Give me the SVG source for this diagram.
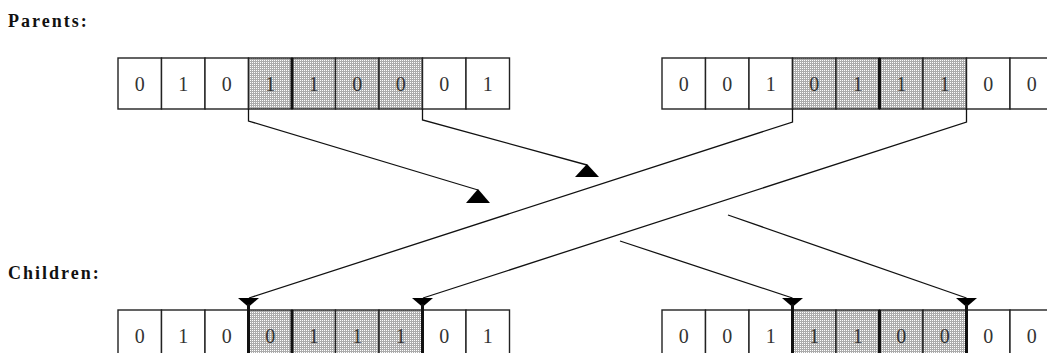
<svg xmlns="http://www.w3.org/2000/svg" width="1047" height="353" viewBox="0 0 1047 353">
<style>
.lbl{font-family:"Liberation Serif","Times New Roman",serif;font-weight:bold;font-size:18px;letter-spacing:2px;fill:#111}
.cell{fill:#fff;stroke:#222;stroke-width:1.4}
.sh{fill:url(#dots);stroke:#222;stroke-width:1.4}
.dg{font-family:"Liberation Serif","Times New Roman",serif;font-size:20px;fill:#333;text-anchor:middle}
.thick{stroke:#111;stroke-width:3}
.ln{fill:none;stroke:#111;stroke-width:1.3}
.ah{fill:#000}
</style>
<defs>
<pattern id="dots" width="2" height="2" patternUnits="userSpaceOnUse">
<rect width="2" height="2" fill="#acacac"/>
<rect width="1" height="1" fill="#fff"/>
</pattern>
</defs>
<rect width="1047" height="353" fill="#fff"/>
<text class="lbl" x="8" y="27">Parents:</text>
<text class="lbl" x="8" y="279">Children:</text>

<g id="parent1">
<rect class="cell" x="118" y="58" width="43.5" height="51"/>
<rect class="cell" x="161.5" y="58" width="43.5" height="51"/>
<rect class="cell" x="205" y="58" width="43.5" height="51"/>
<rect class="sh" x="248.5" y="58" width="43.5" height="51"/>
<rect class="sh" x="292" y="58" width="43.5" height="51"/>
<rect class="sh" x="335.5" y="58" width="43.5" height="51"/>
<rect class="sh" x="379" y="58" width="43.5" height="51"/>
<rect class="cell" x="422.5" y="58" width="43.5" height="51"/>
<rect class="cell" x="466" y="58" width="43.5" height="51"/>
<line class="thick" x1="292" y1="58" x2="292" y2="109"/>
<text class="dg" x="139.75" y="91">0</text>
<text class="dg" x="183.25" y="91">1</text>
<text class="dg" x="226.75" y="91">0</text>
<text class="dg" x="270.25" y="91">1</text>
<text class="dg" x="313.75" y="91">1</text>
<text class="dg" x="357.25" y="91">0</text>
<text class="dg" x="400.75" y="91">0</text>
<text class="dg" x="444.25" y="91">0</text>
<text class="dg" x="487.75" y="91">1</text>
</g>

<g id="parent2">
<rect class="cell" x="662" y="58" width="43.5" height="51"/>
<rect class="cell" x="705.5" y="58" width="43.5" height="51"/>
<rect class="cell" x="749" y="58" width="43.5" height="51"/>
<rect class="sh" x="792.5" y="58" width="43.5" height="51"/>
<rect class="sh" x="836" y="58" width="43.5" height="51"/>
<rect class="sh" x="879.5" y="58" width="43.5" height="51"/>
<rect class="sh" x="923" y="58" width="43.5" height="51"/>
<rect class="cell" x="966.5" y="58" width="43.5" height="51"/>
<rect class="cell" x="1010" y="58" width="43.5" height="51"/>
<line class="thick" x1="879.5" y1="58" x2="879.5" y2="109"/>
<text class="dg" x="683.75" y="91">0</text>
<text class="dg" x="727.25" y="91">0</text>
<text class="dg" x="770.75" y="91">1</text>
<text class="dg" x="814.25" y="91">0</text>
<text class="dg" x="857.75" y="91">1</text>
<text class="dg" x="901.25" y="91">1</text>
<text class="dg" x="944.75" y="91">1</text>
<text class="dg" x="988.25" y="91">0</text>
<text class="dg" x="1031.75" y="91">0</text>
</g>

<g id="child1">
<rect class="cell" x="118" y="310" width="43.5" height="51"/>
<rect class="cell" x="161.5" y="310" width="43.5" height="51"/>
<rect class="cell" x="205" y="310" width="43.5" height="51"/>
<rect class="sh" x="248.5" y="310" width="43.5" height="51"/>
<rect class="sh" x="292" y="310" width="43.5" height="51"/>
<rect class="sh" x="335.5" y="310" width="43.5" height="51"/>
<rect class="sh" x="379" y="310" width="43.5" height="51"/>
<rect class="cell" x="422.5" y="310" width="43.5" height="51"/>
<rect class="cell" x="466" y="310" width="43.5" height="51"/>
<line class="thick" x1="248.5" y1="310" x2="248.5" y2="353"/>
<line class="thick" x1="292" y1="310" x2="292" y2="353"/>
<line class="thick" x1="422.5" y1="310" x2="422.5" y2="353"/>
<text class="dg" x="139.75" y="343">0</text>
<text class="dg" x="183.25" y="343">1</text>
<text class="dg" x="226.75" y="343">0</text>
<text class="dg" x="270.25" y="343">0</text>
<text class="dg" x="313.75" y="343">1</text>
<text class="dg" x="357.25" y="343">1</text>
<text class="dg" x="400.75" y="343">1</text>
<text class="dg" x="444.25" y="343">0</text>
<text class="dg" x="487.75" y="343">1</text>
</g>

<g id="child2">
<rect class="cell" x="662" y="310" width="43.5" height="51"/>
<rect class="cell" x="705.5" y="310" width="43.5" height="51"/>
<rect class="cell" x="749" y="310" width="43.5" height="51"/>
<rect class="sh" x="792.5" y="310" width="43.5" height="51"/>
<rect class="sh" x="836" y="310" width="43.5" height="51"/>
<rect class="sh" x="879.5" y="310" width="43.5" height="51"/>
<rect class="sh" x="923" y="310" width="43.5" height="51"/>
<rect class="cell" x="966.5" y="310" width="43.5" height="51"/>
<rect class="cell" x="1010" y="310" width="43.5" height="51"/>
<line class="thick" x1="792.5" y1="310" x2="792.5" y2="353"/>
<line class="thick" x1="879.5" y1="310" x2="879.5" y2="353"/>
<line class="thick" x1="966.5" y1="310" x2="966.5" y2="353"/>
<text class="dg" x="683.75" y="343">0</text>
<text class="dg" x="727.25" y="343">0</text>
<text class="dg" x="770.75" y="343">1</text>
<text class="dg" x="814.25" y="343">1</text>
<text class="dg" x="857.75" y="343">1</text>
<text class="dg" x="901.25" y="343">0</text>
<text class="dg" x="944.75" y="343">0</text>
<text class="dg" x="988.25" y="343">0</text>
<text class="dg" x="1031.75" y="343">0</text>
</g>

<g id="connectors">
<polyline class="ln" points="248.5,109 248.5,121 478,190"/>
<polygon class="ah" points="466,203 490,203 478,189"/>
<polyline class="ln" points="422.5,109 422.5,120 587,165"/>
<polygon class="ah" points="575,177 599,177 587,164"/>
<polyline class="ln" points="792.5,109 792.5,122 249,298"/>
<polygon class="ah" points="238,298 259,298 248.5,307"/>
<line class="thick" x1="248.5" y1="304" x2="248.5" y2="310"/>
<polyline class="ln" points="966.5,109 966.5,122 423,298"/>
<polygon class="ah" points="412,298 433,298 422.5,307"/>
<line class="thick" x1="422.5" y1="304" x2="422.5" y2="310"/>
<line class="ln" x1="620" y1="241" x2="792.5" y2="298"/>
<polygon class="ah" points="782,298 803,298 792.5,307"/>
<line class="thick" x1="792.5" y1="304" x2="792.5" y2="310"/>
<line class="ln" x1="728" y1="215" x2="966.5" y2="298"/>
<polygon class="ah" points="956,298 977,298 966.5,307"/>
<line class="thick" x1="966.5" y1="304" x2="966.5" y2="310"/>
</g>
</svg>
